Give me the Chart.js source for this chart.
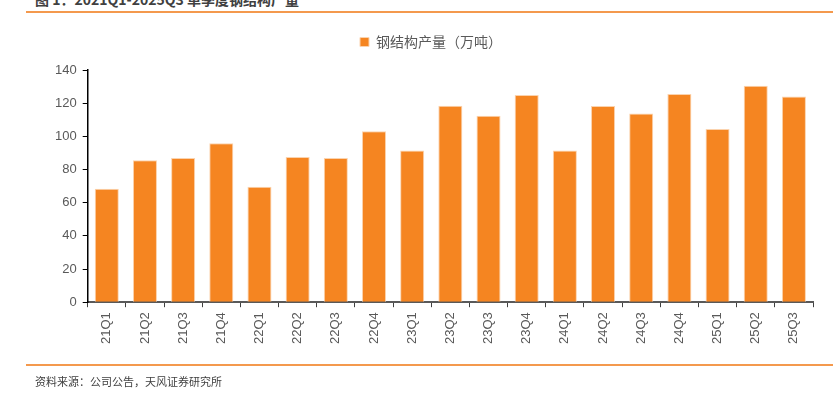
<!DOCTYPE html>
<html>
<head>
<meta charset="utf-8">
<script src="https://cdn.jsdelivr.net/npm/chart.js@4/dist/chart.umd.min.js"></script>
<style>
  html, body { margin: 0; padding: 0; background: #fff; }
  body { width: 833px; height: 397px; position: relative; overflow: hidden; font-family: "Noto Sans CJK SC", "Noto Sans", sans-serif; }
  #title { position: absolute; left: 35px; top: -11px; font-size: 14px; font-weight: bold; color: #404040; white-space: nowrap; }
  .rule { position: absolute; left: 26px; width: 807px; height: 2px; background: #F4994D; }
  #source { position: absolute; left: 35px; top: 373px; font-size: 11px; color: #404040; white-space: nowrap; }
  #wrap { position: absolute; left: 0; top: 0; width: 833px; height: 397px; }
</style>
</head>
<body>
<div id="title">图 1：2021Q1-2025Q3 单季度钢结构产量</div>
<div class="rule" style="top:11px"></div>
<div id="wrap"><canvas id="c" width="833" height="397"></canvas></div>
<div class="rule" style="top:364px"></div>
<div id="source">资料来源：公司公告，天风证券研究所</div>
<script>
const categories = ["21Q1","21Q2","21Q3","21Q4","22Q1","22Q2","22Q3","22Q4","23Q1","23Q2","23Q3","23Q4","24Q1","24Q2","24Q3","24Q4","25Q1","25Q2","25Q3"];
const seriesName = "钢结构产量（万吨）";
const output = [68.4, 85.6, 87.0, 95.8, 69.6, 87.6, 87.0, 103.0, 91.4, 118.4, 112.4, 124.9, 91.4, 118.3, 113.8, 125.5, 104.4, 130.5, 124.0];
const yTicks = [0, 20, 40, 60, 80, 100, 120, 140];

const tickFont = { family: "'Liberation Sans', Arial, sans-serif", size: 13 };
const legendGap = {
  id: 'legendGap',
  beforeInit(chart) {
    const fit = chart.legend.fit;
    chart.legend.fit = function () { fit.call(this); this.height += 11; };
  }
};
new Chart(document.getElementById('c'), {
  type: 'bar',
  data: {
    labels: categories,
    datasets: [{
      label: seriesName,
      data: output,
      backgroundColor: '#F58521',
      borderColor: '#FBD3AE',
      borderWidth: 1,
      barPercentage: 0.63,
      categoryPercentage: 1.0
    }]
  },
  plugins: [legendGap],
  options: {
    responsive: false,
    animation: false,
    layout: { padding: { top: 23, left: 49, right: 20, bottom: 48 } },
    plugins: {
      legend: {
        position: 'top',
        labels: {
          boxWidth: 9, boxHeight: 9, color: '#595959', padding: 12,
          font: { family: "'Noto Sans CJK SC', sans-serif", size: 14 }
        }
      },
      tooltip: { enabled: false }
    },
    scales: {
      x: {
        grid: { display: true, drawOnChartArea: false, offset: true, tickLength: 5, color: '#404040', lineWidth: 1 },
        border: { color: '#595959', width: 2 },
        ticks: { color: '#595959', font: tickFont, maxRotation: 90, minRotation: 90, padding: 5, autoSkip: false }
      },
      y: {
        min: 0, max: 140,
        afterBuildTicks: (axis) => { axis.ticks = yTicks.map(v => ({ value: v })); },
        grid: { display: true, drawOnChartArea: false, tickLength: 5, color: '#000', lineWidth: 1 },
        border: { color: '#000', width: 1.5 },
        ticks: { color: '#595959', font: tickFont, padding: 6 }
      }
    }
  }
});
</script>
</body>
</html>
